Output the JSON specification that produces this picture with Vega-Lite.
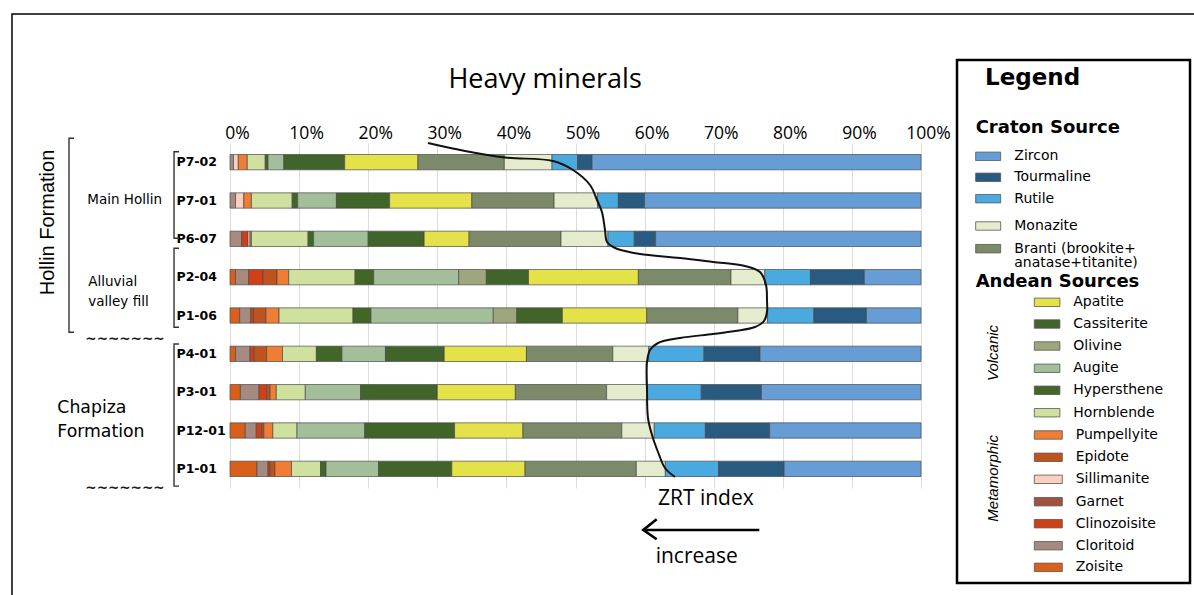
{
  "$schema": "https://vega.github.io/schema/vega-lite/v6.json",
  "width": 691,
  "height": 345,
  "autosize": {"type": "none"},
  "padding": {"left": 230, "top": 143, "right": 273, "bottom": 107},
  "background": "white",
  "config": {"view": {"stroke": null}},
  "datasets": {
    "bars": [
      {"s":"P7-02","m":"Cloritoid","v":0.5},{"s":"P7-02","m":"Sillimanite","v":0.7},{"s":"P7-02","m":"Pumpellyite","v":1.3},{"s":"P7-02","m":"Hornblende","v":2.6},{"s":"P7-02","m":"Hypersthene","v":0.4},{"s":"P7-02","m":"Augite","v":2.3},{"s":"P7-02","m":"Cassiterite","v":8.8},{"s":"P7-02","m":"Apatite","v":10.6},{"s":"P7-02","m":"Branti","v":12.5},{"s":"P7-02","m":"Monazite","v":6.9},{"s":"P7-02","m":"Rutile","v":3.7},{"s":"P7-02","m":"Tourmaline","v":2.1},{"s":"P7-02","m":"Zircon","v":47.6},
      {"s":"P7-01","m":"Cloritoid","v":0.8},{"s":"P7-01","m":"Sillimanite","v":1.2},{"s":"P7-01","m":"Pumpellyite","v":1.1},{"s":"P7-01","m":"Hornblende","v":5.9},{"s":"P7-01","m":"Hypersthene","v":0.8},{"s":"P7-01","m":"Augite","v":5.6},{"s":"P7-01","m":"Cassiterite","v":7.7},{"s":"P7-01","m":"Apatite","v":11.9},{"s":"P7-01","m":"Branti","v":11.9},{"s":"P7-01","m":"Monazite","v":6.3},{"s":"P7-01","m":"Rutile","v":3.0},{"s":"P7-01","m":"Tourmaline","v":3.8},{"s":"P7-01","m":"Zircon","v":40.0},
      {"s":"P6-07","m":"Cloritoid","v":1.7},{"s":"P6-07","m":"Clinozoisite","v":0.9},{"s":"P6-07","m":"Sillimanite","v":0.3},{"s":"P6-07","m":"Pumpellyite","v":0.2},{"s":"P6-07","m":"Hornblende","v":8.2},{"s":"P6-07","m":"Hypersthene","v":0.8},{"s":"P6-07","m":"Augite","v":7.9},{"s":"P6-07","m":"Cassiterite","v":8.1},{"s":"P6-07","m":"Apatite","v":6.5},{"s":"P6-07","m":"Branti","v":13.3},{"s":"P6-07","m":"Monazite","v":6.8},{"s":"P6-07","m":"Rutile","v":3.8},{"s":"P6-07","m":"Tourmaline","v":3.1},{"s":"P6-07","m":"Zircon","v":38.4},
      {"s":"P2-04","m":"Zoisite","v":0.8},{"s":"P2-04","m":"Cloritoid","v":1.9},{"s":"P2-04","m":"Clinozoisite","v":2.1},{"s":"P2-04","m":"Epidote","v":2.0},{"s":"P2-04","m":"Pumpellyite","v":1.7},{"s":"P2-04","m":"Hornblende","v":9.6},{"s":"P2-04","m":"Hypersthene","v":2.7},{"s":"P2-04","m":"Augite","v":12.3},{"s":"P2-04","m":"Olivine","v":4.0},{"s":"P2-04","m":"Cassiterite","v":6.1},{"s":"P2-04","m":"Apatite","v":15.9},{"s":"P2-04","m":"Branti","v":13.4},{"s":"P2-04","m":"Monazite","v":4.9},{"s":"P2-04","m":"Rutile","v":6.6},{"s":"P2-04","m":"Tourmaline","v":7.8},{"s":"P2-04","m":"Zircon","v":8.2},
      {"s":"P1-06","m":"Zoisite","v":1.4},{"s":"P1-06","m":"Cloritoid","v":1.6},{"s":"P1-06","m":"Clinozoisite","v":0.4},{"s":"P1-06","m":"Epidote","v":1.8},{"s":"P1-06","m":"Pumpellyite","v":1.9},{"s":"P1-06","m":"Hornblende","v":10.7},{"s":"P1-06","m":"Hypersthene","v":2.6},{"s":"P1-06","m":"Augite","v":17.7},{"s":"P1-06","m":"Olivine","v":3.4},{"s":"P1-06","m":"Cassiterite","v":6.6},{"s":"P1-06","m":"Apatite","v":12.2},{"s":"P1-06","m":"Branti","v":13.2},{"s":"P1-06","m":"Monazite","v":4.3},{"s":"P1-06","m":"Rutile","v":6.7},{"s":"P1-06","m":"Tourmaline","v":7.6},{"s":"P1-06","m":"Zircon","v":7.9},
      {"s":"P4-01","m":"Zoisite","v":0.8},{"s":"P4-01","m":"Cloritoid","v":2.1},{"s":"P4-01","m":"Clinozoisite","v":0.6},{"s":"P4-01","m":"Epidote","v":1.8},{"s":"P4-01","m":"Pumpellyite","v":2.3},{"s":"P4-01","m":"Hornblende","v":4.9},{"s":"P4-01","m":"Hypersthene","v":3.7},{"s":"P4-01","m":"Augite","v":6.3},{"s":"P4-01","m":"Cassiterite","v":8.5},{"s":"P4-01","m":"Apatite","v":11.9},{"s":"P4-01","m":"Branti","v":12.5},{"s":"P4-01","m":"Monazite","v":5.2},{"s":"P4-01","m":"Rutile","v":8.0},{"s":"P4-01","m":"Tourmaline","v":8.1},{"s":"P4-01","m":"Zircon","v":23.3},
      {"s":"P3-01","m":"Zoisite","v":1.5},{"s":"P3-01","m":"Cloritoid","v":2.7},{"s":"P3-01","m":"Clinozoisite","v":1.1},{"s":"P3-01","m":"Epidote","v":0.5},{"s":"P3-01","m":"Pumpellyite","v":0.9},{"s":"P3-01","m":"Hornblende","v":4.2},{"s":"P3-01","m":"Augite","v":8.0},{"s":"P3-01","m":"Cassiterite","v":11.1},{"s":"P3-01","m":"Apatite","v":11.3},{"s":"P3-01","m":"Branti","v":13.2},{"s":"P3-01","m":"Monazite","v":5.9},{"s":"P3-01","m":"Rutile","v":7.8},{"s":"P3-01","m":"Tourmaline","v":8.7},{"s":"P3-01","m":"Zircon","v":23.1},
      {"s":"P12-01","m":"Zoisite","v":2.2},{"s":"P12-01","m":"Cloritoid","v":1.6},{"s":"P12-01","m":"Clinozoisite","v":0.8},{"s":"P12-01","m":"Epidote","v":0.3},{"s":"P12-01","m":"Pumpellyite","v":1.3},{"s":"P12-01","m":"Hornblende","v":3.5},{"s":"P12-01","m":"Augite","v":9.8},{"s":"P12-01","m":"Cassiterite","v":13.0},{"s":"P12-01","m":"Apatite","v":9.9},{"s":"P12-01","m":"Branti","v":14.3},{"s":"P12-01","m":"Monazite","v":4.7},{"s":"P12-01","m":"Rutile","v":7.4},{"s":"P12-01","m":"Tourmaline","v":9.3},{"s":"P12-01","m":"Zircon","v":21.9},
      {"s":"P1-01","m":"Zoisite","v":3.9},{"s":"P1-01","m":"Cloritoid","v":1.6},{"s":"P1-01","m":"Clinozoisite","v":0.3},{"s":"P1-01","m":"Epidote","v":0.7},{"s":"P1-01","m":"Pumpellyite","v":2.4},{"s":"P1-01","m":"Hornblende","v":4.2},{"s":"P1-01","m":"Hypersthene","v":0.8},{"s":"P1-01","m":"Augite","v":7.6},{"s":"P1-01","m":"Cassiterite","v":10.6},{"s":"P1-01","m":"Apatite","v":10.6},{"s":"P1-01","m":"Branti","v":16.1},{"s":"P1-01","m":"Monazite","v":4.2},{"s":"P1-01","m":"Rutile","v":7.7},{"s":"P1-01","m":"Tourmaline","v":9.5},{"s":"P1-01","m":"Zircon","v":19.8}
    ],
    "curve": [
      {"i":0,"x":28.65,"y":0.0},{"i":1,"x":34.01,"y":0.209},{"i":2,"x":39.8,"y":0.378},{"i":3,"x":46.74,"y":0.47},{"i":4,"x":49.64,"y":0.704},{"i":5,"x":52.1,"y":1.096},{"i":6,"x":53.11,"y":1.487},{"i":7,"x":53.83,"y":1.8},{"i":8,"x":54.27,"y":2.27},{"i":9,"x":54.56,"y":2.583},{"i":10,"x":55.72,"y":2.739},{"i":11,"x":57.16,"y":2.817},{"i":12,"x":59.33,"y":2.896},{"i":13,"x":65.12,"y":3.0},{"i":14,"x":69.9,"y":3.104},{"i":15,"x":74.53,"y":3.209},{"i":16,"x":76.7,"y":3.365},{"i":17,"x":77.57,"y":3.704},{"i":18,"x":77.71,"y":4.096},{"i":19,"x":77.71,"y":4.409},{"i":20,"x":77.28,"y":4.643},{"i":21,"x":75.98,"y":4.8},{"i":22,"x":73.08,"y":4.904},{"i":23,"x":69.9,"y":4.983},{"i":24,"x":65.12,"y":5.087},{"i":25,"x":61.94,"y":5.217},{"i":26,"x":60.78,"y":5.4},{"i":27,"x":60.35,"y":5.713},{"i":28,"x":60.35,"y":6.443},{"i":29,"x":60.49,"y":7.174},{"i":30,"x":61.07,"y":7.617},{"i":31,"x":61.94,"y":8.061},{"i":32,"x":62.95,"y":8.478},{"i":33,"x":64.4,"y":8.713}
    ],
    "brackets": [
      {"g":"a","i":0,"x":-7.38,"y":0.227},{"g":"a","i":1,"x":-8.1,"y":0.227},{"g":"a","i":2,"x":-8.1,"y":2.486},{"g":"a","i":3,"x":-7.38,"y":2.486},
      {"g":"b","i":0,"x":-7.38,"y":2.747},{"g":"b","i":1,"x":-8.1,"y":2.747},{"g":"b","i":2,"x":-8.1,"y":4.808},{"g":"b","i":3,"x":-7.38,"y":4.808},
      {"g":"c","i":0,"x":-7.38,"y":5.243},{"g":"c","i":1,"x":-8.1,"y":5.243},{"g":"c","i":2,"x":-8.1,"y":8.95},{"g":"c","i":3,"x":-7.38,"y":8.95},
      {"g":"h","i":0,"x":-22.58,"y":-0.123},{"g":"h","i":1,"x":-23.3,"y":-0.123},{"g":"h","i":2,"x":-23.3,"y":4.938},{"g":"h","i":3,"x":-22.58,"y":4.938}
    ],
    "arrow": [
      {"g":"s","i":0,"x":59.81,"y":10.096},{"g":"s","i":1,"x":76.6,"y":10.096},
      {"g":"h","i":0,"x":61.75,"y":9.817},{"g":"h","i":1,"x":59.81,"y":10.096},{"g":"h","i":2,"x":61.75,"y":10.338}
    ],
    "craton": [
      {"m":"Zircon","y":0.347},{"m":"Tourmaline","y":0.895},{"m":"Rutile","y":1.453},{"m":"Monazite","y":2.165},{"m":"Branti","y":2.757}
    ],
    "volcanic": [
      {"m":"Apatite","y":4.156},{"m":"Cassiterite","y":4.722},{"m":"Olivine","y":5.296},{"m":"Augite","y":5.877},{"m":"Hypersthene","y":6.451},{"m":"Hornblende","y":7.036}
    ],
    "metamorphic": [
      {"m":"Pumpellyite","y":7.617},{"m":"Epidote","y":8.199},{"m":"Sillimanite","y":8.773},{"m":"Garnet","y":9.357},{"m":"Clinozoisite","y":9.931},{"m":"Cloritoid","y":10.505},{"m":"Zoisite","y":11.07}
    ]
  },
  "layer": [
    {
      "data": {"name": "bars"},
      "transform": [
        {"calculate": "indexof(['Zoisite','Cloritoid','Clinozoisite','Garnet','Sillimanite','Epidote','Pumpellyite','Hornblende','Hypersthene','Augite','Olivine','Cassiterite','Apatite','Branti','Monazite','Rutile','Tourmaline','Zircon'], datum.m)", "as": "o"}
      ],
      "mark": {"type": "bar", "stroke": "#4a4a4a", "strokeWidth": 0.7},
      "encoding": {
        "y": {"field": "s", "type": "nominal",
              "sort": ["P7-02","P7-01","P6-07","P2-04","P1-06","P4-01","P3-01","P12-01","P1-01"],
              "scale": {"paddingInner": 0.6, "paddingOuter": 0.3},
              "axis": {"title": null, "labelAlign": "left", "labelPadding": 54, "ticks": false, "tickSize": 0, "domain": false,
                       "labelFont": "DejaVu Sans", "labelFontWeight": "bold", "labelFontSize": 12.5, "labelColor": "black"}},
        "x": {"field": "v", "type": "quantitative", "stack": "zero",
              "scale": {"domain": [0, 100], "nice": false, "zero": false},
              "axis": {"orient": "top", "title": null, "values": [0,10,20,30,40,50,60,70,80,90,100],
                       "labelExpr": "datum.value + '%'", "labelFont": "Open Sans", "labelFontSize": 17.5, "labelColor": "black",
                       "labelPadding": 1, "labelOffset": 7, "labelFlush": false, "labelOverlap": false, "labelBound": false,
                       "ticks": false, "tickSize": 0, "domain": false, "grid": true, "gridColor": "#dddddd", "gridWidth": 1}},
        "color": {"field": "m", "type": "nominal", "legend": null,
                  "scale": {"domain": ["Zoisite","Cloritoid","Clinozoisite","Garnet","Sillimanite","Epidote","Pumpellyite","Hornblende","Hypersthene","Augite","Olivine","Cassiterite","Apatite","Branti","Monazite","Rutile","Tourmaline","Zircon"],
                            "range": ["#d9601a","#a68a80","#cf4019","#a0523c","#f9cfc0","#c0521d","#ef7d35","#cfe09f","#416626","#a2bf9a","#9ea67d","#40642a","#e4e149","#7c8a69","#e4eccd","#4aaae0","#295a80","#669dd4"]}},
        "order": {"field": "o", "type": "quantitative"}
      }
    },
    {
      "layer": [
        {
          "data": {"values": [{}]},
          "mark": {"type": "rect", "fill": "white", "fillOpacity": 0, "stroke": "black", "strokeWidth": 1.5},
          "encoding": {
            "x": {"datum": -31.55, "type": "quantitative", "scale": {"domain": [0, 100], "nice": false, "zero": false}, "axis": null},
            "x2": {"datum": 141},
            "y": {"datum": -3.365, "type": "quantitative", "scale": {"domain": [0, 9], "reverse": true, "nice": false, "zero": false}, "axis": null},
            "y2": {"datum": 12.2}
          }
        },
        {
          "data": {"values": [{}]},
          "mark": {"type": "rect", "fill": "white", "stroke": "black", "strokeWidth": 2.5},
          "encoding": {
            "x": {"datum": 105.21, "type": "quantitative", "scale": {"domain": [0, 100], "nice": false, "zero": false}, "axis": null},
            "x2": {"datum": 138.93},
            "y": {"datum": -2.165, "type": "quantitative", "scale": {"domain": [0, 9], "reverse": true, "nice": false, "zero": false}, "axis": null},
            "y2": {"datum": 11.478}
          }
        },
        {
          "data": {"name": "brackets"},
          "mark": {"type": "line", "color": "#333333", "strokeWidth": 1.4},
          "encoding": {
            "x": {"field": "x", "type": "quantitative", "scale": {"domain": [0, 100], "nice": false, "zero": false}, "axis": null},
            "y": {"field": "y", "type": "quantitative", "scale": {"domain": [0, 9], "reverse": true, "nice": false, "zero": false}, "axis": null},
            "detail": {"field": "g"},
            "order": {"field": "i", "type": "quantitative"}
          }
        },
        {
          "data": {"name": "curve"},
          "mark": {"type": "line", "color": "#111111", "strokeWidth": 2, "interpolate": "catmull-rom"},
          "encoding": {
            "x": {"field": "x", "type": "quantitative", "scale": {"domain": [0, 100], "nice": false, "zero": false}, "axis": null},
            "y": {"field": "y", "type": "quantitative", "scale": {"domain": [0, 9], "reverse": true, "nice": false, "zero": false}, "axis": null},
            "order": {"field": "i", "type": "quantitative"}
          }
        },
        {
          "data": {"name": "arrow"},
          "mark": {"type": "line", "color": "black", "strokeWidth": 2.6},
          "encoding": {
            "x": {"field": "x", "type": "quantitative", "scale": {"domain": [0, 100], "nice": false, "zero": false}, "axis": null},
            "y": {"field": "y", "type": "quantitative", "scale": {"domain": [0, 9], "reverse": true, "nice": false, "zero": false}, "axis": null},
            "detail": {"field": "g"},
            "order": {"field": "i", "type": "quantitative"}
          }
        },
        {
          "data": {"values": [{"t": "Heavy minerals", "x": 45.6, "y": -1.64}]},
          "mark": {"type": "text", "font": "Open Sans", "fontSize": 27, "align": "center", "baseline": "middle", "color": "black"},
          "encoding": {
            "x": {"field": "x", "type": "quantitative", "scale": {"domain": [0, 100], "nice": false, "zero": false}, "axis": null},
            "y": {"field": "y", "type": "quantitative", "scale": {"domain": [0, 9], "reverse": true, "nice": false, "zero": false}, "axis": null},
            "text": {"field": "t"}
          }
        },
        {
          "data": {"values": [{"t": "ZRT index", "x": 68.86, "y": 9.295}, {"t": "increase", "x": 67.54, "y": 10.79}]},
          "mark": {"type": "text", "font": "Open Sans", "fontSize": 21, "align": "center", "baseline": "middle", "color": "black"},
          "encoding": {
            "x": {"field": "x", "type": "quantitative", "scale": {"domain": [0, 100], "nice": false, "zero": false}, "axis": null},
            "y": {"field": "y", "type": "quantitative", "scale": {"domain": [0, 9], "reverse": true, "nice": false, "zero": false}, "axis": null},
            "text": {"field": "t"}
          }
        },
        {
          "data": {"values": [{"t": "Main Hollin", "x": -20.65, "y": 1.487}, {"t": "Alluvial", "x": -20.51, "y": 3.634}, {"t": "valley fill", "x": -20.51, "y": 4.14}]},
          "mark": {"type": "text", "font": "DejaVu Sans", "fontSize": 13.5, "align": "left", "baseline": "middle", "color": "black"},
          "encoding": {
            "x": {"field": "x", "type": "quantitative", "scale": {"domain": [0, 100], "nice": false, "zero": false}, "axis": null},
            "y": {"field": "y", "type": "quantitative", "scale": {"domain": [0, 9], "reverse": true, "nice": false, "zero": false}, "axis": null},
            "text": {"field": "t"}
          }
        },
        {
          "data": {"values": [{"t": "Chapiza", "x": -24.99, "y": 6.921}, {"t": "Formation", "x": -24.99, "y": 7.531}]},
          "mark": {"type": "text", "font": "DejaVu Sans", "fontSize": 17.3, "align": "left", "baseline": "middle", "color": "black"},
          "encoding": {
            "x": {"field": "x", "type": "quantitative", "scale": {"domain": [0, 100], "nice": false, "zero": false}, "axis": null},
            "y": {"field": "y", "type": "quantitative", "scale": {"domain": [0, 9], "reverse": true, "nice": false, "zero": false}, "axis": null},
            "text": {"field": "t"}
          }
        },
        {
          "data": {"values": [{"t": "Hollin Formation", "x": -26.41, "y": 2.074}]},
          "mark": {"type": "text", "font": "Liberation Sans", "fontSize": 20, "angle": 270, "align": "center", "baseline": "middle", "color": "black"},
          "encoding": {
            "x": {"field": "x", "type": "quantitative", "scale": {"domain": [0, 100], "nice": false, "zero": false}, "axis": null},
            "y": {"field": "y", "type": "quantitative", "scale": {"domain": [0, 9], "reverse": true, "nice": false, "zero": false}, "axis": null},
            "text": {"field": "t"}
          }
        },
        {
          "data": {"values": [{"t": "~~~~~~~", "x": -15.2, "y": 5.113}, {"t": "~~~~~~~", "x": -15.2, "y": 9.0}]},
          "mark": {"type": "text", "font": "DejaVu Sans", "fontWeight": "bold", "fontSize": 13.5, "align": "center", "baseline": "middle", "color": "#1a1a1a"},
          "encoding": {
            "x": {"field": "x", "type": "quantitative", "scale": {"domain": [0, 100], "nice": false, "zero": false}, "axis": null},
            "y": {"field": "y", "type": "quantitative", "scale": {"domain": [0, 9], "reverse": true, "nice": false, "zero": false}, "axis": null},
            "text": {"field": "t"}
          }
        },
        {
          "data": {"values": [{"t": "Legend", "x": 109.26, "y": -1.688}]},
          "mark": {"type": "text", "font": "DejaVu Sans", "fontWeight": "bold", "fontSize": 23, "align": "left", "baseline": "middle", "color": "black"},
          "encoding": {
            "x": {"field": "x", "type": "quantitative", "scale": {"domain": [0, 100], "nice": false, "zero": false}, "axis": null},
            "y": {"field": "y", "type": "quantitative", "scale": {"domain": [0, 9], "reverse": true, "nice": false, "zero": false}, "axis": null},
            "text": {"field": "t"}
          }
        },
        {
          "data": {"values": [{"t": "Craton Source", "x": 107.91, "y": -0.383}, {"t": "Andean Sources", "x": 107.91, "y": 3.63}]},
          "mark": {"type": "text", "font": "DejaVu Sans", "fontWeight": "bold", "fontSize": 18, "align": "left", "baseline": "middle", "color": "black"},
          "encoding": {
            "x": {"field": "x", "type": "quantitative", "scale": {"domain": [0, 100], "nice": false, "zero": false}, "axis": null},
            "y": {"field": "y", "type": "quantitative", "scale": {"domain": [0, 9], "reverse": true, "nice": false, "zero": false}, "axis": null},
            "text": {"field": "t"}
          }
        },
        {
          "data": {"values": [{"t": "Volcanic", "x": 110.42, "y": 5.478}, {"t": "Metamorphic", "x": 110.42, "y": 8.748}]},
          "mark": {"type": "text", "font": "Liberation Sans", "fontStyle": "italic", "fontSize": 15, "angle": 270, "align": "center", "baseline": "middle", "color": "black"},
          "encoding": {
            "x": {"field": "x", "type": "quantitative", "scale": {"domain": [0, 100], "nice": false, "zero": false}, "axis": null},
            "y": {"field": "y", "type": "quantitative", "scale": {"domain": [0, 9], "reverse": true, "nice": false, "zero": false}, "axis": null},
            "text": {"field": "t"}
          }
        },
        {
          "data": {"name": "craton"},
          "transform": [{"calculate": "datum.y - 0.11", "as": "y0"}, {"calculate": "datum.y + 0.11", "as": "y1"}],
          "mark": {"type": "rect", "stroke": "#555555", "strokeWidth": 0.8},
          "encoding": {
            "x": {"datum": 107.91, "type": "quantitative", "scale": {"domain": [0, 100], "nice": false, "zero": false}, "axis": null},
            "x2": {"datum": 111.53},
            "y": {"field": "y0", "type": "quantitative", "scale": {"domain": [0, 9], "reverse": true, "nice": false, "zero": false}, "axis": null},
            "y2": {"field": "y1"},
            "color": {"field": "m", "type": "nominal", "legend": null}
          }
        },
        {
          "data": {"name": "volcanic"},
          "transform": [{"calculate": "datum.y - 0.11", "as": "y0"}, {"calculate": "datum.y + 0.11", "as": "y1"}],
          "mark": {"type": "rect", "stroke": "#555555", "strokeWidth": 0.8},
          "encoding": {
            "x": {"datum": 116.4, "type": "quantitative", "scale": {"domain": [0, 100], "nice": false, "zero": false}, "axis": null},
            "x2": {"datum": 120.1},
            "y": {"field": "y0", "type": "quantitative", "scale": {"domain": [0, 9], "reverse": true, "nice": false, "zero": false}, "axis": null},
            "y2": {"field": "y1"},
            "color": {"field": "m", "type": "nominal", "legend": null}
          }
        },
        {
          "data": {"name": "metamorphic"},
          "transform": [{"calculate": "datum.y - 0.11", "as": "y0"}, {"calculate": "datum.y + 0.11", "as": "y1"}],
          "mark": {"type": "rect", "stroke": "#555555", "strokeWidth": 0.8},
          "encoding": {
            "x": {"datum": 116.4, "type": "quantitative", "scale": {"domain": [0, 100], "nice": false, "zero": false}, "axis": null},
            "x2": {"datum": 120.45},
            "y": {"field": "y0", "type": "quantitative", "scale": {"domain": [0, 9], "reverse": true, "nice": false, "zero": false}, "axis": null},
            "y2": {"field": "y1"},
            "color": {"field": "m", "type": "nominal", "legend": null}
          }
        },
        {
          "data": {"values": [{"t": "Zircon", "y": 0.347}, {"t": "Tourmaline", "y": 0.895}, {"t": "Rutile", "y": 1.453}, {"t": "Monazite", "y": 2.165}, {"t": "Branti (brookite+", "y": 2.765}, {"t": "anatase+titanite)", "y": 3.143}]},
          "mark": {"type": "text", "font": "DejaVu Sans", "fontSize": 14, "align": "left", "baseline": "middle", "color": "black"},
          "encoding": {
            "x": {"datum": 113.5, "type": "quantitative", "scale": {"domain": [0, 100], "nice": false, "zero": false}, "axis": null},
            "y": {"field": "y", "type": "quantitative", "scale": {"domain": [0, 9], "reverse": true, "nice": false, "zero": false}, "axis": null},
            "text": {"field": "t"}
          }
        },
        {
          "data": {"name": "volcanic"},
          "mark": {"type": "text", "font": "DejaVu Sans", "fontSize": 14, "align": "left", "baseline": "middle", "color": "black"},
          "encoding": {
            "x": {"datum": 122.04, "type": "quantitative", "scale": {"domain": [0, 100], "nice": false, "zero": false}, "axis": null},
            "y": {"field": "y", "type": "quantitative", "scale": {"domain": [0, 9], "reverse": true, "nice": false, "zero": false}, "axis": null},
            "text": {"field": "m"}
          }
        },
        {
          "data": {"name": "metamorphic"},
          "mark": {"type": "text", "font": "DejaVu Sans", "fontSize": 14, "align": "left", "baseline": "middle", "color": "black"},
          "encoding": {
            "x": {"datum": 122.39, "type": "quantitative", "scale": {"domain": [0, 100], "nice": false, "zero": false}, "axis": null},
            "y": {"field": "y", "type": "quantitative", "scale": {"domain": [0, 9], "reverse": true, "nice": false, "zero": false}, "axis": null},
            "text": {"field": "m"}
          }
        }
      ]
    }
  ],
  "resolve": {"scale": {"y": "independent"}, "axis": {"x": "independent"}}
}
